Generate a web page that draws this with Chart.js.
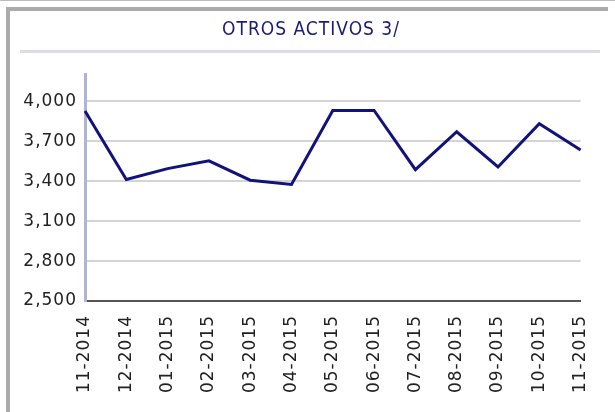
<!DOCTYPE html>
<html>
<head>
<meta charset="utf-8">
<script src="https://cdn.jsdelivr.net/npm/chart.js@4/dist/chart.umd.min.js"></script>
<style>
    html, body { margin: 0; padding: 0; background: #fff; }
    #wrap { position: relative; width: 615px; height: 412px; overflow: hidden; }
    .topline { position: absolute; left: 0; top: 0; width: 615px; height: 1px; background: #bcbcbc; }
    .frame { position: absolute; left: 6px; top: 7px; width: 598px; height: 420px;
             border-left: 4px solid #ababab; border-top: 4px solid #ababab; }
    .sep { position: absolute; left: 20px; top: 50px; width: 580px; height: 3px; background: #dcdce8; }
    #chart { position: absolute; left: 0; top: 0; }
</style>
</head>
<body>
<div id="wrap">
    <div class="topline"></div>
    <div class="frame"></div>
    <div class="sep"></div>
    <canvas id="chart" width="615" height="412"></canvas>
</div>
<script>
// Chart data
const months = ['11-2014', '12-2014', '01-2015', '02-2015', '03-2015', '04-2015', '05-2015',
    '06-2015', '07-2015', '08-2015', '09-2015', '10-2015', '11-2015'];
const otrosActivos = [3928, 3413, 3495, 3553, 3408, 3376, 3932, 3932, 3487, 3772, 3507, 3833, 3635];
const yTicks = [2500, 2800, 3100, 3400, 3700, 4000];
const yMin = 2500;
const yMax = 4200;

// Slightly wider letter spacing, like the original
const spacingPlugin = {
    id: 'spacing',
    beforeUpdate(chart) { chart.ctx.letterSpacing = '1px'; },
    beforeDraw(chart) { chart.ctx.letterSpacing = '1px'; },
};

new Chart(document.getElementById('chart'), {
    type: 'line',
    data: {
        labels: months,
        datasets: [
            {
                label: 'OTROS ACTIVOS 3/',
                data: otrosActivos,
                borderColor: '#12127c',
                borderWidth: 3,
                pointRadius: 0,
                tension: 0,
                fill: false,
            },
        ],
    },
    plugins: [spacingPlugin],
    options: {
        responsive: false,
        animation: false,
        layout: {
            padding: { left: 7, right: 0, top: 0, bottom: 0 },
        },
        plugins: {
            legend: { display: false },
            tooltip: { enabled: false },
            title: {
                display: true,
                text: 'OTROS ACTIVOS 3/',
                color: '#1c1c78',
                font: { family: 'DejaVu Sans Condensed', size: 19, weight: 'normal' },
                padding: { top: 19, bottom: 33 },
            },
        },
        scales: {
            x: {
                grid: { display: false, drawTicks: false },
                border: { color: '#555555', width: 2 },
                ticks: {
                    autoSkip: false,
                    minRotation: 90,
                    maxRotation: 90,
                    padding: 14,
                    color: '#222222',
                    font: { family: 'DejaVu Sans', size: 17 },
                },
                afterFit: (scale) => { scale.height = 111; },
            },
            y: {
                min: yMin,
                max: yMax,
                grid: { color: '#d4d4d4', lineWidth: 2, drawTicks: false },
                border: { color: '#b0b4d4', width: 3 },
                afterBuildTicks: (scale) => { scale.ticks = yTicks.map((v) => ({ value: v })); },
                ticks: {
                    padding: 8,
                    color: '#222222',
                    font: { family: 'DejaVu Sans', size: 17 },
                    callback: (v) => v.toLocaleString('en-US'),
                },
                afterFit: (scale) => { scale.width = 78; },
            },
            // empty right gutter so the title sits centred like the original
            yRight: {
                type: 'linear',
                position: 'right',
                grid: { display: false, drawTicks: false },
                border: { display: false },
                ticks: { display: false },
                afterFit: (scale) => { scale.width = 32; },
            },
        },
    },
});
</script>
</body>
</html>
